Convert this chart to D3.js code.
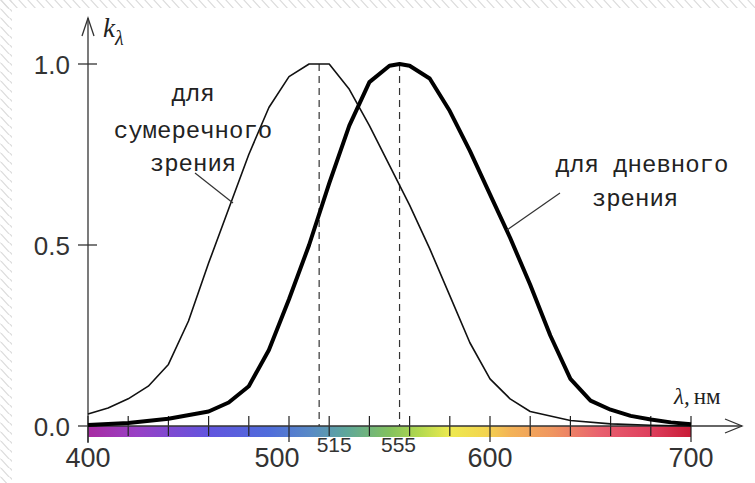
<!DOCTYPE html>
<html>
<head>
<meta charset="utf-8">
<script src="https://cdn.jsdelivr.net/npm/d3@7"></script>
<style>
html,body{margin:0;padding:0;background:#fff;}
svg{display:block;}
</style>
</head>
<body>
<svg id="chart" width="755" height="483"></svg>
<script>
// ---- data ----
const twilightLambda = [400,410,420,430,440,450,460,470,480,490,500,510,520,530,540,550,560,570,580,590,600,610,620,640,660,680,700];
const twilightValues = [0.033,0.05,0.075,0.11,0.17,0.29,0.45,0.60,0.75,0.88,0.965,1.0,1.0,0.93,0.83,0.72,0.61,0.49,0.36,0.23,0.13,0.075,0.04,0.015,0.006,0.002,0.0];
const dayLambda = [400,420,440,460,470,480,490,500,510,520,530,540,550,555,560,570,580,590,600,610,620,630,640,650,660,670,680,690,700];
const dayValues = [0.003,0.008,0.02,0.04,0.065,0.11,0.21,0.35,0.50,0.67,0.83,0.95,0.995,1.0,0.995,0.96,0.87,0.76,0.64,0.52,0.39,0.25,0.13,0.07,0.045,0.028,0.018,0.01,0.005];
const peakLambdas = [515, 555];
const xMajorTicks = [400, 500, 600, 700];
const xMinorTicks = d3.range(400, 701, 20);
const yTicks = [0.0, 0.5, 1.0];
const twilightLabel = ["для", "сумеречного", "зрения"];
const dayLabel = ["для дневного", "зрения"];

// ---- layout ----
const svg = d3.select("#chart");
const W = 755, H = 483;
const x = d3.scaleLinear().domain([400, 700]).range([88, 691]);
const y = d3.scaleLinear().domain([0, 1]).range([426, 64]);

// hatched border background
const defs = svg.append("defs");
const pat = defs.append("pattern").attr("id","hatch").attr("patternUnits","userSpaceOnUse")
  .attr("width",9).attr("height",9);
pat.append("path").attr("d","M0,-1 L10,10 M-9,-1 L1,10").attr("stroke","#dcdcdc").attr("stroke-width",1.2);
svg.append("rect").attr("x",0).attr("y",0).attr("width",W).attr("height",8).attr("fill","url(#hatch)");
svg.append("rect").attr("x",0).attr("y",0).attr("width",12).attr("height",H).attr("fill","url(#hatch)");
svg.append("rect").attr("x",12).attr("y",8).attr("width",W-12).attr("height",H-8).attr("fill","#fff");

// spectrum bar gradient
const grad = defs.append("linearGradient").attr("id","spec").attr("x1","0%").attr("x2","100%");
const stops = [[0,"#a0189a"],[0.08,"#9030c0"],[0.2,"#5446dc"],[0.3,"#4060d8"],[0.37,"#4a80c0"],[0.43,"#50a090"],[0.5,"#78bc50"],[0.55,"#acd640"],[0.6,"#ece840"],[0.66,"#f2d040"],[0.7,"#f2ac48"],[0.77,"#ee8c52"],[0.85,"#e65262"],[0.93,"#dc3050"],[1,"#c40826"]];
stops.forEach(s => grad.append("stop").attr("offset", s[0]).attr("stop-color", s[1]));
svg.append("rect").attr("x", x(400)).attr("y", y(0)).attr("width", x(700)-x(400)).attr("height", 11)
  .attr("fill","url(#spec)").attr("opacity",0.92);

// x ticks
svg.selectAll(".mtick").data(xMinorTicks).enter().append("line")
  .attr("x1", d => x(d)).attr("x2", d => x(d))
  .attr("y1", 416).attr("y2", d => xMajorTicks.includes(d) ? 442 : 436)
  .attr("stroke","#222").attr("stroke-width",1.2);

// axes
const axisColor = "#333";
svg.append("line").attr("x1", x(400)).attr("x2", 742).attr("y1", y(0)).attr("y2", y(0)).attr("stroke",axisColor).attr("stroke-width",1.3);
svg.append("path").attr("d", `M725,419 L742,${y(0)} L725,433`).attr("fill","none").attr("stroke",axisColor).attr("stroke-width",1.3);
svg.append("line").attr("x1", x(400)).attr("x2", x(400)).attr("y1", 443).attr("y2", 18).attr("stroke",axisColor).attr("stroke-width",1.3);
svg.append("path").attr("d", `M82,36 L${x(400)},18 L94,36`).attr("fill","none").attr("stroke",axisColor).attr("stroke-width",1.3);

// y ticks
svg.selectAll(".ytick").data(yTicks).enter().append("line")
  .attr("x1", 78).attr("x2", 97).attr("y1", d => y(d)).attr("y2", d => y(d))
  .attr("stroke",axisColor).attr("stroke-width",1.3);
svg.selectAll(".ylab").data(yTicks).enter().append("text")
  .attr("x", 70).attr("y", d => y(d) + 10)
  .attr("text-anchor","end").attr("font-family","Liberation Sans, Arial, sans-serif")
  .attr("font-size", 26).attr("fill","#333").text(d => d.toFixed(1));

// x labels
svg.selectAll(".xlab").data(xMajorTicks).enter().append("text")
  .attr("x", d => x(d) + (d === 500 ? -12 : 0)).attr("y", 467)
  .attr("text-anchor","middle").attr("font-family","Liberation Sans, Arial, sans-serif")
  .attr("font-size", 27).attr("fill","#333").text(d => d);

// dashed peak lines
svg.selectAll(".peak").data(peakLambdas).enter().append("line")
  .attr("x1", d => x(d)).attr("x2", d => x(d)).attr("y1", y(1)).attr("y2", y(0))
  .attr("stroke","#333").attr("stroke-width",1.2).attr("stroke-dasharray","7,5");
svg.selectAll(".plab").data(peakLambdas).enter().append("text")
  .attr("x", (d,i) => x(d) + (i === 0 ? 15 : -1)).attr("y", 452)
  .attr("text-anchor","middle").attr("font-family","Liberation Sans, Arial, sans-serif")
  .attr("font-size", 21).attr("fill","#333").text(d => d);

// curves
const line = d3.line().x(d => x(d[0])).y(d => y(d[1])).curve(d3.curveLinear);
svg.append("path").datum(d3.zip(twilightLambda, twilightValues)).attr("d", line)
  .attr("fill","none").attr("stroke","#111").attr("stroke-width",1.6).attr("stroke-linejoin","round");
svg.append("path").datum(d3.zip(dayLambda, dayValues)).attr("d", line)
  .attr("fill","none").attr("stroke","#000").attr("stroke-width",4).attr("stroke-linejoin","round");

// annotation texts
const annFont = "Liberation Mono, Courier New, monospace";
svg.selectAll(".tw").data(twilightLabel).enter().append("text")
  .attr("x", 193).attr("y", (d,i) => [101, 138, 171][i])
  .attr("text-anchor","middle").attr("font-family", annFont).attr("font-size", 24)
  .attr("fill","#222").text(d => d);
svg.selectAll(".dy").data(dayLabel).enter().append("text")
  .attr("x", (d,i) => [642, 635][i]).attr("y", (d,i) => [172, 206][i])
  .attr("text-anchor","middle").attr("font-family", annFont).attr("font-size", 24)
  .attr("fill","#222").text(d => d);

// leader lines
svg.append("line").attr("x1",195).attr("y1",173).attr("x2",233).attr("y2",203).attr("stroke","#333").attr("stroke-width",1.2);
svg.append("line").attr("x1",560).attr("y1",193).attr("x2",507).attr("y2",230).attr("stroke","#333").attr("stroke-width",1.2);

// axis titles
const kT = svg.append("text").attr("x",103).attr("y",37).attr("font-family","Liberation Serif, Times New Roman, serif").attr("fill","#222");
kT.append("tspan").attr("font-style","italic").attr("font-size",27).text("k");
kT.append("tspan").attr("font-style","italic").attr("font-size",20).attr("dy",8).text("λ");
const lT = svg.append("text").attr("x",674).attr("y",404).attr("font-family","Liberation Serif, Times New Roman, serif").attr("fill","#222").attr("font-size",23);
lT.append("tspan").attr("font-style","italic").text("λ,");
lT.append("tspan").attr("dx",4).text("нм");
</script>
</body>
</html>
